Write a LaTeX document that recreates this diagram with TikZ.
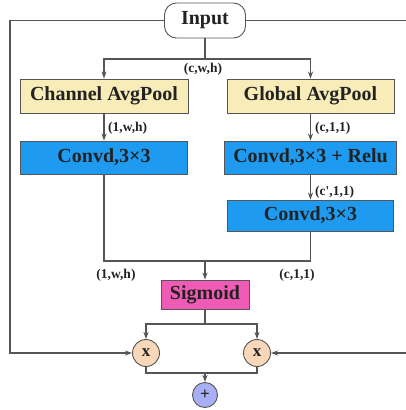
\documentclass[tikz,border=0pt]{standalone}
\usepackage{fontspec}
\setmainfont{Liberation Serif}
\usetikzlibrary{arrows.meta}
\definecolor{txt}{HTML}{222222}
\definecolor{ln}{HTML}{555555}
\definecolor{yel}{HTML}{F8EDB8}
\definecolor{blu}{HTML}{1E9BF0}
\definecolor{pnk}{HTML}{F05BB5}
\definecolor{org}{HTML}{F8D8B8}
\definecolor{pur}{HTML}{A8B0F5}
\tikzset{
  box/.style={draw=ln, line width=0.9pt, inner sep=0pt, text=txt, font=\fontsize{20}{22}\selectfont\bfseries},
  pool/.style={box, fill=yel},
  conv/.style={box, fill=blu},
  sig/.style={box, fill=pnk},
  inbox/.style={box, fill=white, rounded corners=12pt},
  op/.style={circle, draw=ln, line width=0.9pt, minimum size=27pt, inner sep=0pt, text=txt, font=\fontsize{17}{18}\selectfont\bfseries},
  lab/.style={text=txt, font=\fontsize{13.5}{14}\selectfont\bfseries, inner sep=0pt},
  wire/.style={draw=ln, line width=1.1pt},
  arr/.style={wire, -{Stealth[length=7pt,width=5pt]}},
}
\begin{document}
\begin{tikzpicture}[x=1pt,y=-1pt]
\useasboundingbox (0,0) rectangle (405,410);
\node[inbox, minimum width=81pt, minimum height=35pt] (in) at (205,20.5) {Input};
\node[pool, minimum width=168pt, minimum height=34pt] (cap) at (104,96) {Channel AvgPool};
\node[pool, minimum width=167pt, minimum height=34pt] (gap) at (310.5,96) {Global AvgPool};
\node[conv, minimum width=167pt, minimum height=33pt] (c1) at (104,157.5) {Convd,3×3};
\node[conv, minimum width=172pt, minimum height=33pt] (c2) at (310.5,157.5) {Convd,3×3 + Relu};
\node[conv, minimum width=166pt, minimum height=31pt] (c3) at (310.5,215.5) {Convd,3×3};
\node[sig, minimum width=88pt, minimum height=29pt] (sg) at (205,294.5) {Sigmoid};
\node[op, fill=org] (mL) at (146,353) {x};
\node[op, fill=org] (mR) at (257,353) {x};
\node[op, fill=pur, minimum size=25pt] (pl) at (205,395) {+};

\node[lab] (l1) at (203,69) {(c,w,h)};
\node[lab, anchor=west] (l2) at (108,128) {(1,w,h)};
\node[lab, anchor=west] (l3) at (315,128) {(c,1,1)};
\node[lab, anchor=west] (l4) at (315,192) {(c\textquotesingle,1,1)};
\node[lab] (l5) at (116,275) {(1,w,h)};
\node[lab] (l6) at (297,275) {(c,1,1)};

\coordinate (s1) at (205,59);
\coordinate (m1) at (205,261);
\coordinate (s2) at (205,324);
\coordinate (j1) at (205,373);
\coordinate (lft) at (10,20.5);
\coordinate (rgt) at (409,20.5);

\draw[wire] (in.south) -- (s1);
\draw[arr] (s1) -| (cap.north);
\draw[arr] (s1) -| (gap.north);
\draw[arr] (cap.south) -- (c1.north);
\draw[arr] (gap.south) -- (c2.north);
\draw[arr] (c2.south) -- (c3.north);
\draw[wire] (c1.south) |- (m1);
\draw[wire] (c3.south) |- (m1);
\draw[arr] (m1) -- (sg.north);
\draw[wire] (sg.south) -- (s2);
\draw[arr] (s2) -| (mL.north);
\draw[arr] (s2) -| (mR.north);
\draw[wire] (mL.south) |- (j1);
\draw[wire] (mR.south) |- (j1);
\draw[arr] (j1) -- (pl.north);
\draw[arr] (in.west) -- (lft) |- (mL.west);
\draw[arr] (in.east) -- (rgt) |- (mR.east);
\end{tikzpicture}
\end{document}
